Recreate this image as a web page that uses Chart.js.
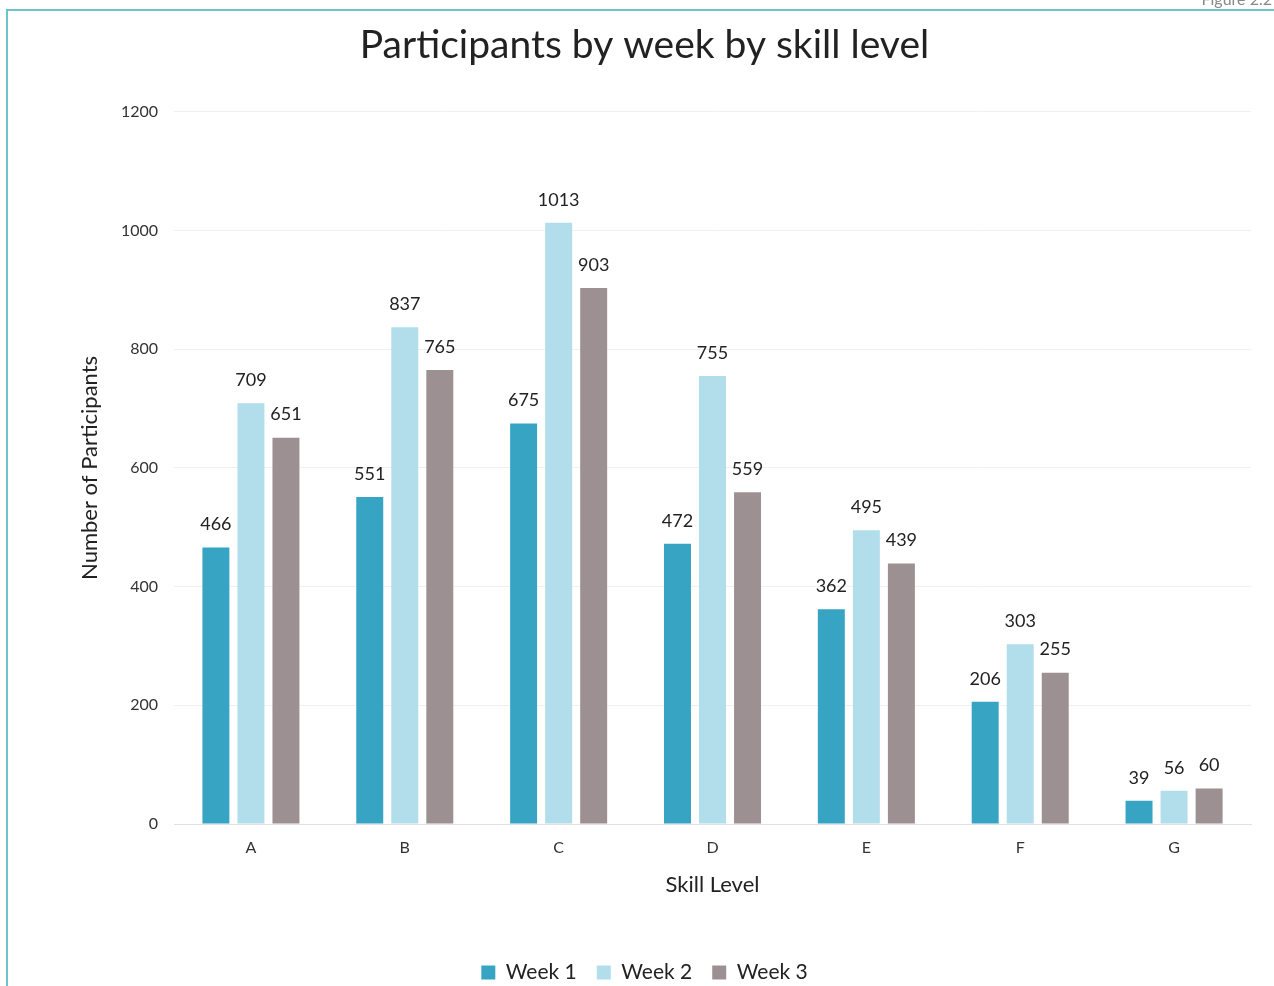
<!DOCTYPE html>
<html>
<head>
<meta charset="utf-8">
<script src="https://cdn.jsdelivr.net/npm/chart.js@4"></script>
<style>
  html, body { margin: 0; padding: 0; background: #fff; overflow: hidden; }
  body { width: 1274px; height: 986px; position: relative; }
  #wrap { position: absolute; left: 0; top: 0; width: 1274px; height: 993px; }
  #frame { position: absolute; left: 6px; top: 9px; right: -4px; bottom: -4px;
           border-top: 2px solid #6cc3cc; border-left: 2px solid #6cc3cc; pointer-events: none; }
  #fig { position: absolute; right: 2px; top: -11px; font: 16px Lato, sans-serif; color: #888; }
</style>
</head>
<body>
<div id="wrap"><canvas id="participantsChart"></canvas></div>
<div id="frame"></div>
<div id="fig">Figure 2.2</div>
<script>
// Skill levels and participants per week
const skillLevels = ['A', 'B', 'C', 'D', 'E', 'F', 'G'];
const week1 = [466, 551, 675, 472, 362, 206, 39];
const week2 = [709, 837, 1013, 755, 495, 303, 56];
const week3 = [651, 765, 903, 559, 439, 255, 60];
const yTicks = [0, 200, 400, 600, 800, 1000, 1200];

const fontFamily = 'Lato, "Open Sans", sans-serif';

// Draw the value above each bar
const barValueLabels = {
    id: 'barValueLabels',
    afterDatasetsDraw(chart) {
        const ctx = chart.ctx;
        ctx.save();
        ctx.font = '18px ' + fontFamily;
        ctx.fillStyle = '#222';
        ctx.textAlign = 'center';
        ctx.textBaseline = 'bottom';
        chart.data.datasets.forEach((dataset, i) => {
            chart.getDatasetMeta(i).data.forEach((bar, j) => {
                ctx.fillText(dataset.data[j], bar.x, bar.y - 14);
            });
        });
        ctx.restore();
    }
};

new Chart(document.getElementById('participantsChart'), {
    type: 'bar',
    data: {
        labels: skillLevels,
        datasets: [
            { label: 'Week 1', data: week1, backgroundColor: '#37a4c3' },
            { label: 'Week 2', data: week2, backgroundColor: '#b1deea' },
            { label: 'Week 3', data: week3, backgroundColor: '#9c9092' }
        ]
    },
    options: {
        responsive: true,
        maintainAspectRatio: false,
        animation: false,
        layout: { padding: { left: 38, right: 23, top: 0, bottom: 0 } },
        datasets: {
            bar: { categoryPercentage: 0.683, barPercentage: 0.77 }
        },
        plugins: {
            title: {
                display: true,
                text: 'Participants by week by skill level',
                color: '#222',
                font: { family: fontFamily, size: 39, weight: 'normal' },
                padding: { top: 22, bottom: 43 }
            },
            legend: {
                position: 'bottom',
                labels: {
                    color: '#222',
                    font: { family: fontFamily, size: 21 },
                    boxWidth: 14,
                    boxHeight: 14,
                    padding: 20
                }
            },
            tooltip: { enabled: false }
        },
        scales: {
            x: {
                grid: { display: false },
                border: { color: '#e2e2e2' },
                ticks: { color: '#333', font: { family: fontFamily, size: 16 }, padding: 6 },
                title: {
                    display: true,
                    text: 'Skill Level',
                    color: '#222',
                    font: { family: fontFamily, size: 22 },
                    padding: { top: 0, bottom: 44 }
                },
                afterFit: s => { s.height = 118; }
            },
            y: {
                min: 0,
                max: 1200,
                afterBuildTicks: s => { s.ticks = yTicks.map(v => ({ value: v })); },
                grid: { color: '#f0f0f0', drawTicks: false },
                border: { display: false },
                ticks: {
                    color: '#333',
                    font: { family: fontFamily, size: 16 },
                    padding: 16,
                    callback: v => String(v)
                },
                title: {
                    display: true,
                    text: 'Number of Participants',
                    color: '#222',
                    font: { family: fontFamily, size: 22 },
                    padding: { top: 39, bottom: 0 }
                },
                afterFit: s => { s.width = 136; }
            }
        }
    },
    plugins: [barValueLabels]
});
</script>
</body>
</html>
